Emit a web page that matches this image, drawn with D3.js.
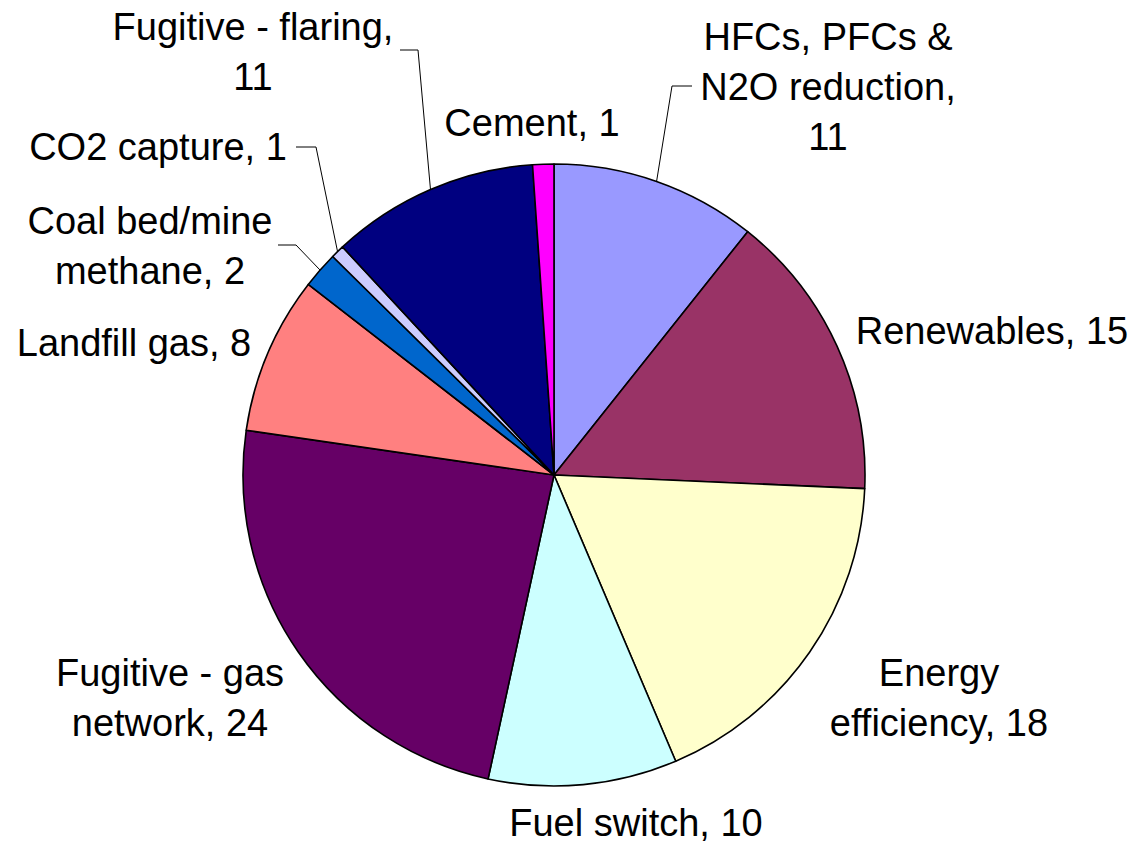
<!DOCTYPE html>
<html>
<head>
<meta charset="utf-8">
<script src="https://cdn.jsdelivr.net/npm/d3@7"></script>
<style>
  html, body { margin: 0; padding: 0; background: #fff; }
  svg { display: block; }
  text { font-family: "Liberation Sans", Arial, sans-serif; font-size: 38px; fill: #000; }
</style>
</head>
<body>
<svg id="chart" width="1136" height="847"></svg>
<script>
// Data (clockwise from 12 o'clock)
const categories = ["HFCs, PFCs & N2O reduction", "Renewables", "Energy efficiency", "Fuel switch",
  "Fugitive - gas network", "Landfill gas", "Coal bed/mine methane", "CO2 capture",
  "Fugitive - flaring", "Cement"];
const values = [10.7, 15.0, 17.9, 9.8, 23.9, 8.2, 1.9, 0.7, 10.8, 1.1];
const valueLabels = ["11", "15", "18", "10", "24", "8", "2", "1", "11", "1"];
const colors = ["#9999FF", "#993366", "#FFFFCC", "#CCFFFF", "#660066", "#FF8080",
  "#0066CC", "#CCCCFF", "#000080", "#FF00FF"];

// Label layout (lines, centre x, first baseline y)
const labelLines = [
  ["HFCs, PFCs &", "N2O reduction,", "11"],
  ["Renewables, 15"],
  ["Energy", "efficiency, 18"],
  ["Fuel switch, 10"],
  ["Fugitive - gas", "network, 24"],
  ["Landfill gas, 8"],
  ["Coal bed/mine", "methane, 2"],
  ["CO2 capture, 1"],
  ["Fugitive - flaring,", "11"],
  ["Cement, 1"]
];
const labelX = [828, 992, 939, 636, 170, 134, 150, 158, 253, 532];
const labelY = [50, 344, 686, 836, 686, 356, 234, 160, 40, 136];
const lineGap = 50;
// leader lines: [elbow, end] or null
const leaders = [
  [[672, 86], [692, 86]],
  null, null, null, null, null,
  [[296, 245], [278, 245]],
  [[316, 147], [296, 147]],
  [[418, 50], [400, 50]],
  null
];

const cx = 554, cy = 475, r = 311;
const svg = d3.select("#chart");
const g = svg.append("g").attr("transform", `translate(${cx},${cy})`);

const pie = d3.pie().sort(null).value(d => d)(values);
const arc = d3.arc().innerRadius(0).outerRadius(r);

g.selectAll("path.slice").data(pie).enter().append("path")
  .attr("class", "slice")
  .attr("d", arc)
  .attr("fill", (d, i) => colors[i])
  .attr("stroke", "#000")
  .attr("stroke-width", 1.6)
  .attr("stroke-linejoin", "round");

// leader lines
pie.forEach((d, i) => {
  if (!leaders[i]) return;
  const mid = (d.startAngle + d.endAngle) / 2;
  const sx = cx + r * Math.sin(mid), sy = cy - r * Math.cos(mid);
  const pts = [[sx, sy], leaders[i][0], leaders[i][1]];
  svg.append("path")
    .attr("d", d3.line()(pts))
    .attr("fill", "none")
    .attr("stroke", "#000")
    .attr("stroke-width", 1);
});

// labels
labelLines.forEach((lines, i) => {
  const t = svg.append("text")
    .attr("text-anchor", "middle")
    .attr("x", labelX[i]).attr("y", labelY[i]);
  lines.forEach((ln, j) => {
    t.append("tspan").attr("x", labelX[i]).attr("y", labelY[i] + j * lineGap).text(ln);
  });
});
</script>
</body>
</html>
